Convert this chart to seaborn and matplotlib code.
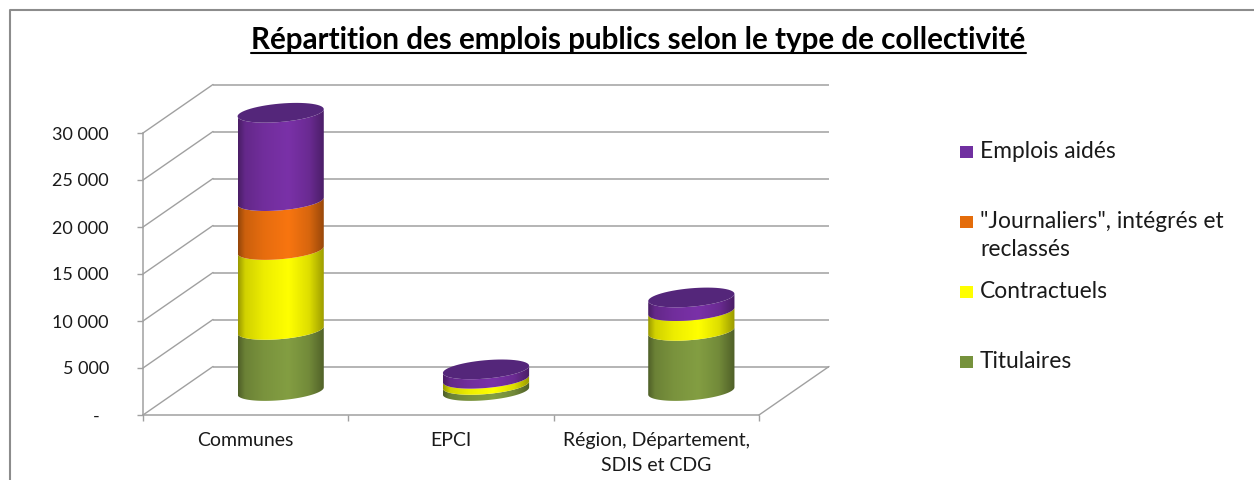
import numpy as np
import pandas as pd
import matplotlib
matplotlib.use('Agg')
import matplotlib.pyplot as plt
import seaborn as sns
from matplotlib.colors import to_rgb
from matplotlib.lines import Line2D
from matplotlib.patches import PathPatch, Rectangle
from matplotlib.path import Path
from matplotlib.transforms import Affine2D, IdentityTransform

# data
categories = ['Communes', 'EPCI', 'Région, Département,\nSDIS et CDG']
titulaires = [6500, 650, 6400]
contractuels = [8500, 650, 2100]
journaliers = [5200, 0, 0]
emplois_aides = [9400, 1000, 1450]
series_names = ['Titulaires', 'Contractuels', '"Journaliers", intégrés et\nreclassés', 'Emplois aidés']
series_values = [titulaires, contractuels, journaliers, emplois_aides]
y_ticks = [0, 5000, 10000, 15000, 20000, 25000, 30000]
y_labels = ['-  ', '5 000', '10 000', '15 000', '20 000', '25 000', '30 000']

# colours
body_colors = ['#839E42', '#FFFF00', '#F87510', '#7A31A8']
legend_colors = ['#76923C', '#FFFF00', '#E46C0A', '#7030A0']
cap_color = '#54267A'
grid_color = '#A0A0A0'
text_color = '#1A1A1A'

W, H = 1254, 480
sns.set_theme(style='white')
plt.rcParams['font.family'] = ['Lato', 'DejaVu Sans']

fig = plt.figure(figsize=(W / 100, H / 100), dpi=100)
ax = fig.add_axes([143 / W, (H - 415) / H, 616 / W, 282 / H])

# stacked bars, they give the geometry of the cylinders
bottom = np.zeros(len(categories))
for values, color in zip(series_values, body_colors):
    df = pd.DataFrame({'type': categories, 'value': values})
    sns.barplot(data=df, x='type', y='value', bottom=bottom, width=0.42, color=color, ax=ax)
    bottom = bottom + np.array(values)

ax.set_xlim(-0.5, 2.5)
ax.set_ylim(0, 30000)
ax.set_autoscale_on(False)
ax.set_xlabel('')
ax.set_ylabel('')

# axes and ticks
sns.despine(ax=ax)
for side in ['left', 'bottom']:
    ax.spines[side].set_color(grid_color)
    ax.spines[side].set_linewidth(1.1)
ax.set_yticks(y_ticks)
ax.set_yticklabels(y_labels, fontsize=13, color=text_color)
ax.tick_params(axis='y', left=True, length=4.5, width=1, color=grid_color, pad=20)
ax.set_xticks(range(len(categories)))
ax.set_xticklabels(categories, fontsize=14, color=text_color, linespacing=1.55)
ax.set_xticks([-0.5, 0.5, 1.5, 2.5], minor=True)
ax.tick_params(axis='x', which='major', length=0, pad=12.5)
ax.tick_params(axis='x', which='minor', bottom=True, length=4.5, width=1, color=grid_color)

# 3d look: back wall and floor, shifted from the front plane
depth_x, depth_y = 70, 48.5
back = ax.transData + Affine2D().translate(depth_x, depth_y)
ax.hlines(y_ticks, -0.5, 2.5, transform=back, color=grid_color, lw=1.1, clip_on=False, zorder=1)
for v in y_ticks:
    x0, y0 = ax.transData.transform((-0.5, v))
    ax.add_line(Line2D([x0, x0 + depth_x], [y0, y0 + depth_y], transform=IdentityTransform(),
                       color=grid_color, lw=1, clip_on=False, zorder=1))
x0, y0 = ax.transData.transform((2.5, 0))
ax.add_line(Line2D([x0, x0 + depth_x], [y0, y0 + depth_y], transform=IdentityTransform(),
                   color=grid_color, lw=1, clip_on=False, zorder=1))

# turn every bar into a shaded cylinder segment
cyl = ax.transData + Affine2D().translate(35, 24)
tilt, minor = 3.6, 9.2
shade_x = [0, 0.08, 0.3, 0.58, 0.82, 1]
shade_y = [0.6, 0.82, 0.93, 1.0, 0.87, 0.6]
ramp = np.interp(np.linspace(0, 1, 200), shade_x, shade_y)


def half_ellipse(cx, cy, hw, start, stop):
    t = np.linspace(start, stop, 60)
    return np.column_stack([cx + hw * np.cos(t), cy + tilt * np.cos(t) + minor * np.sin(t)])


tops = {}
for container, color in zip(ax.containers, body_colors):
    for bar in container:
        bar.set_visible(False)
        if bar.get_height() <= 0:
            continue
        xl, yb = bar.get_x(), bar.get_y()
        xr, yt = xl + bar.get_width(), yb + bar.get_height()
        (px0, py0), (px1, py1) = cyl.transform([(xl, yb), (xr, yt)])
        cx, hw = (px0 + px1) / 2, (px1 - px0) / 2
        lower = half_ellipse(cx, py0, hw, np.pi, 2 * np.pi)
        upper = half_ellipse(cx, py1, hw, 2 * np.pi, np.pi)
        outline = Path(np.vstack([lower, upper, lower[:1]]), closed=True)
        rgb = np.array(to_rgb(color))[None, None, :] * ramp[None, :, None]
        im = ax.imshow(rgb, extent=(xl, xr, yb - 2500, yt + 2500), aspect='auto',
                       transform=cyl, zorder=3, interpolation='bilinear')
        im.set_clip_path(PathPatch(outline, transform=IdentityTransform()))
        im.set_clip_box(fig.bbox)
        tops[bar.get_x()] = (cx, py1, hw)

# top cap of each column
for cx, cy, hw in tops.values():
    cap = half_ellipse(cx, cy, hw, 0, 2 * np.pi)
    ax.add_patch(PathPatch(Path(cap, closed=True), transform=IdentityTransform(), facecolor=cap_color,
                           edgecolor='none', clip_on=False, zorder=4))

# title with its underline
title = fig.text(638.5 / W, 1 - 49 / H, 'Répartition des emplois publics selon le type de collectivité',
                 ha='center', va='baseline', fontsize=21.35, fontweight='bold', color='black')
fig.canvas.draw()
box = title.get_window_extent()
fig.add_artist(Line2D([box.x0 / W, box.x1 / W], [1 - 52.5 / H] * 2, color='black', lw=1.5))

# legend, spacing is irregular in the original so it is placed by hand
legend_baselines = [368, 298, 228, 158]
for name, color, base in zip(series_names, legend_colors, legend_baselines):
    fig.add_artist(Rectangle((960 / W, 1 - base / H), 13 / W, 12.5 / H, facecolor=color,
                             edgecolor='none', transform=fig.transFigure))
    for k, line in enumerate(name.split('\n')):
        fig.text(980 / W, 1 - (base + 28.5 * k) / H, line, ha='left', va='baseline',
                 fontsize=16.4, color=text_color)

# chart frame, left and top edges are the only ones in view
fig.add_artist(Line2D([10 / W, 10 / W, 1], [0, 1 - 10 / H, 1 - 10 / H], color='#8C8C8C', lw=1.5))

fig.savefig('out.png', dpi=100)
